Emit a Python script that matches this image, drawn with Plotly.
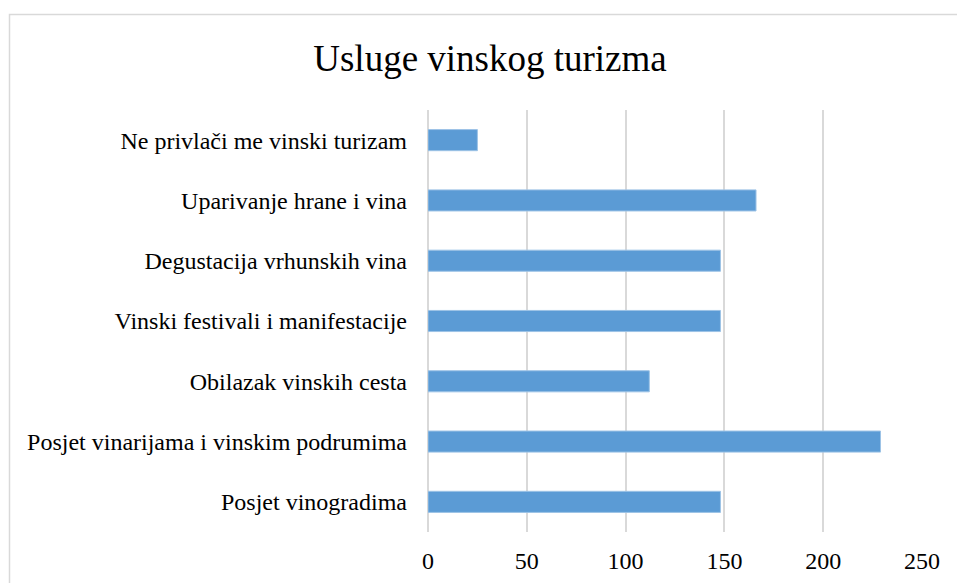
import plotly.graph_objects as go

categories = [
    "Posjet vinogradima",
    "Posjet vinarijama i vinskim podrumima",
    "Obilazak vinskih cesta",
    "Vinski festivali i manifestacije",
    "Degustacija vrhunskih vina",
    "Uparivanje hrane i vina",
    "Ne privlači me vinski turizam",
]
values = [148, 229, 112, 148, 148, 166, 25]
tick_vals = [0, 50, 100, 150, 200, 250]

W, H = 957, 583
L, R, T, B = 428, 35, 110, 51
pw, ph = W - L - R, H - T - B

fig = go.Figure(go.Bar(
    x=values, y=categories, orientation="h",
    marker=dict(color="#5B9BD5", line=dict(color="#9DC3E6", width=1)),
))

font_family = "Liberation Serif, Times New Roman, serif"
fig.update_layout(
    width=W, height=H,
    margin=dict(l=L, r=R, t=T, b=B, autoexpand=False),
    paper_bgcolor="white", plot_bgcolor="white",
    bargap=0.65,
    showlegend=False,
    title=dict(text="Usluge vinskog turizma", x=490 / W, xanchor="center",
               y=1 - 58 / H, yanchor="middle", yref="container",
               font=dict(family=font_family, size=37, color="black")),
    font=dict(family=font_family, size=24, color="black"),
    xaxis=dict(range=[0, 250], tickvals=tick_vals, showgrid=True,
               gridcolor="#d9d9d9", gridwidth=1.5, zeroline=True,
               zerolinecolor="#d9d9d9", zerolinewidth=1.5,
               showline=False, ticks="", ticklabelstandoff=12,
               tickfont=dict(size=24)),
    yaxis=dict(showgrid=False, showline=False, ticks="",
               ticklabelstandoff=20, tickfont=dict(size=24)),
)

fig.add_shape(type="rect", xref="paper", yref="paper",
              x0=(9.5 - L) / pw, x1=1.3, y0=-0.3, y1=1 + (T - 14.5) / ph,
              line=dict(color="#d9d9d9", width=1.5), fillcolor="rgba(0,0,0,0)",
              layer="below")

fig.write_html("out.html", config={"displayModeBar": False},
               post_script="document.body.style.margin='0';document.body.style.overflow='hidden';")
